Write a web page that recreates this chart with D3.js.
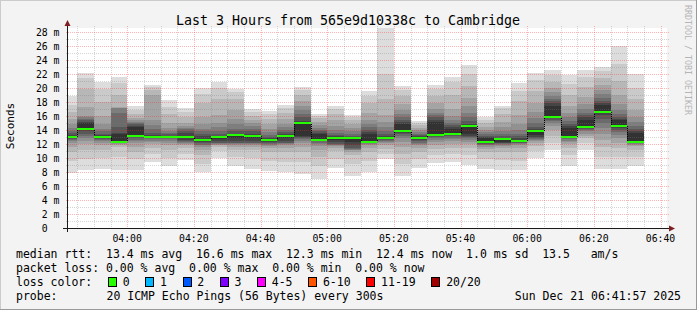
<!DOCTYPE html>
<html>
<head>
<meta charset="utf-8">
<script src="https://cdn.jsdelivr.net/npm/d3@7"></script>
<style>
  html, body { margin: 0; padding: 0; background: #f3f3f3; }
  svg { display: block; }
  text { font-family: "DejaVu Sans Mono", monospace; fill: #000; }
</style>
</head>
<body>
<svg id="chart" width="697" height="310"></svg>
<script>
// ---- data ----
const title = "Last 3 Hours from 565e9d10338c to Cambridge";
const startTime = Date.UTC(2025, 11, 21, 3, 41, 57);
const endTime = Date.UTC(2025, 11, 21, 6, 41, 57);
const firstSlot = Date.UTC(2025, 11, 21, 3, 40, 0);
const stepMs = 300 * 1000;

// median rtt per 5 min step (ms)
const medians = [13.0, 14.1, 13.0, 12.3, 13.1, 13.0, 13.0, 13.0, 12.6, 13.0,
                 13.3, 13.1, 12.6, 13.2, 15.0, 12.6, 12.8, 12.8, 12.3, 12.9,
                 13.8, 12.9, 13.3, 13.5, 14.6, 12.3, 12.7, 12.5, 13.8, 15.9,
                 13.0, 14.4, 16.6, 14.6, 12.3];

// packets lost per step (all 0 of 20)
const lossCounts = [0,0,0,0,0,0,0,0,0,0,0,0,0,0,0,0,0,0,0,0,0,0,0,0,0,0,0,0,0,0,0,0,0,0,0];

// 20 sorted ping times per step (ms)
const pings = [
  [7.9, 9.6, 10.8, 11.6, 12.1, 12.4, 12.6, 12.7, 12.8, 12.9, 13.1, 13.3, 13.6, 13.9, 14.3, 14.9, 15.6, 16.6, 17.6, 18.8],
  [8.3, 9.8, 11.2, 12.0, 12.5, 12.9, 13.2, 13.5, 13.8, 14.1, 15.0, 15.2, 15.4, 15.6, 15.8, 16.0, 17.3, 19.9, 21.4, 22.2],
  [8.5, 10.0, 11.2, 11.8, 12.2, 12.4, 12.6, 12.7, 12.8, 12.9, 13.1, 13.3, 13.5, 13.8, 14.2, 14.8, 16.0, 18.0, 19.8, 20.9],
  [8.3, 10.2, 11.6, 11.9, 12.0, 12.1, 12.2, 12.2, 12.3, 12.3, 13.4, 13.6, 14.5, 16.5, 17.1, 17.2, 17.3, 19.0, 20.7, 21.6],
  [8.3, 9.8, 10.8, 11.6, 12.1, 12.4, 12.6, 12.8, 13.0, 13.1, 14.4, 14.6, 14.8, 15.0, 15.2, 15.4, 15.7, 16.3, 16.9, 17.4],
  [9.5, 10.6, 11.5, 12.0, 12.3, 12.5, 12.7, 12.8, 12.9, 13.0, 13.1, 13.3, 13.6, 14.1, 14.7, 15.4, 19.0, 19.7, 20.1, 20.4],
  [8.8, 10.0, 11.2, 11.8, 12.2, 12.5, 12.7, 12.8, 12.9, 13.0, 13.1, 13.2, 13.4, 13.6, 13.9, 14.3, 15.0, 16.3, 17.3, 18.3],
  [9.7, 10.6, 11.4, 11.8, 12.0, 12.2, 12.3, 12.4, 12.6, 12.9, 13.1, 13.6, 13.9, 14.1, 14.3, 14.6, 15.0, 15.8, 16.6, 17.2],
  [8.0, 9.2, 10.4, 11.2, 11.6, 11.8, 11.9, 12.1, 12.3, 12.5, 12.7, 13.1, 13.5, 13.8, 14.2, 14.8, 15.8, 17.8, 19.2, 20.0],
  [10.0, 11.0, 11.6, 11.8, 11.9, 12.0, 12.1, 12.2, 12.4, 12.7, 13.0, 13.2, 13.5, 13.9, 14.4, 15.0, 16.2, 18.5, 20.0, 20.9],
  [8.8, 10.2, 11.2, 11.6, 11.9, 12.0, 12.1, 12.2, 12.5, 12.9, 13.3, 13.5, 13.8, 14.2, 14.8, 15.6, 16.8, 18.4, 19.4, 19.9],
  [8.5, 10.0, 11.1, 11.6, 11.8, 12.0, 12.1, 12.2, 12.5, 12.8, 13.1, 13.4, 13.8, 14.2, 14.6, 15.0, 15.4, 16.0, 16.6, 17.0],
  [8.2, 9.6, 10.8, 11.4, 11.7, 11.9, 12.0, 12.1, 12.3, 12.5, 12.6, 12.8, 13.0, 13.3, 13.7, 14.2, 14.8, 15.6, 16.3, 16.7],
  [8.0, 9.5, 10.8, 11.4, 11.8, 12.0, 12.1, 12.2, 12.5, 12.9, 13.2, 13.4, 13.7, 14.0, 14.4, 14.9, 15.6, 16.5, 17.2, 17.6],
  [7.7, 9.4, 10.8, 11.6, 12.1, 12.4, 12.7, 12.9, 13.0, 13.1, 15.0, 15.3, 15.8, 16.3, 16.8, 17.4, 18.1, 19.0, 19.7, 20.1],
  [7.0, 8.8, 10.2, 11.2, 11.7, 12.0, 12.2, 12.4, 12.5, 12.6, 13.4, 13.6, 13.8, 14.0, 14.3, 14.7, 15.2, 15.7, 16.0, 16.3],
  [8.6, 9.9, 11.0, 11.5, 11.7, 11.8, 11.9, 12.0, 12.3, 12.6, 12.9, 13.1, 13.3, 13.6, 14.0, 14.6, 15.4, 16.3, 17.0, 17.4],
  [7.5, 9.2, 10.4, 10.9, 11.1, 11.2, 11.3, 11.4, 11.8, 12.3, 12.8, 13.0, 13.2, 13.5, 13.9, 14.3, 14.8, 15.4, 15.8, 16.1],
  [8.0, 9.6, 10.8, 11.4, 11.8, 12.0, 12.1, 12.2, 12.2, 12.3, 13.4, 13.7, 14.0, 14.4, 14.9, 15.5, 16.5, 17.8, 18.8, 19.6],
  [9.8, 10.6, 11.3, 11.8, 12.1, 12.3, 12.5, 12.6, 12.7, 12.8, 13.0, 13.2, 13.5, 13.9, 14.5, 15.2, 16.2, 18.5, 22.0, 28.6],
  [7.5, 9.2, 10.6, 11.6, 12.3, 12.8, 13.1, 13.4, 13.6, 13.8, 14.8, 15.1, 15.4, 15.8, 16.3, 16.9, 17.7, 18.8, 19.7, 20.3],
  [8.6, 9.8, 10.8, 11.4, 11.8, 12.0, 12.2, 12.4, 12.6, 12.8, 12.9, 13.1, 13.3, 13.5, 13.7, 14.0, 14.3, 14.7, 15.0, 15.3],
  [9.3, 10.4, 11.3, 11.9, 12.3, 12.6, 12.8, 13.0, 13.2, 13.3, 15.2, 15.5, 15.8, 16.1, 16.5, 17.0, 17.8, 18.8, 19.8, 20.4],
  [9.5, 10.6, 11.4, 12.0, 12.4, 12.7, 12.9, 13.1, 13.3, 13.5, 14.2, 14.4, 14.7, 15.0, 15.4, 16.0, 17.0, 19.0, 20.8, 21.6],
  [9.0, 10.5, 11.5, 12.0, 12.3, 12.6, 12.8, 13.0, 13.2, 13.5, 14.6, 14.9, 15.3, 15.8, 16.5, 17.4, 18.6, 20.3, 22.0, 23.3],
  [8.5, 9.8, 10.8, 11.3, 11.6, 11.8, 11.9, 12.0, 12.1, 12.3, 12.8, 13.0, 13.2, 13.4, 13.7, 14.0, 14.4, 15.0, 15.5, 15.9],
  [8.3, 9.7, 10.8, 11.4, 11.7, 11.9, 12.0, 12.1, 12.2, 12.3, 12.7, 12.9, 13.2, 13.5, 13.9, 14.4, 15.2, 16.3, 17.1, 17.5],
  [8.3, 9.6, 10.8, 11.4, 11.8, 12.0, 12.1, 12.2, 12.3, 12.4, 12.6, 12.8, 13.1, 13.5, 14.0, 14.8, 16.2, 18.2, 19.6, 20.7],
  [10.0, 11.0, 11.7, 12.1, 12.4, 12.6, 12.7, 12.8, 13.0, 13.3, 13.8, 14.1, 14.5, 15.0, 15.7, 16.6, 17.8, 19.6, 21.2, 22.2],
  [11.1, 12.2, 13.2, 14.0, 14.6, 15.0, 15.3, 15.5, 15.7, 15.9, 17.4, 17.8, 18.1, 18.5, 18.9, 19.4, 20.0, 20.9, 21.9, 22.6],
  [8.9, 10.4, 11.5, 12.0, 12.3, 12.5, 12.7, 12.8, 12.9, 13.0, 14.3, 14.6, 14.9, 15.3, 15.8, 16.5, 17.5, 19.0, 20.6, 21.8],
  [11.1, 12.1, 12.8, 13.2, 13.5, 13.8, 14.0, 14.1, 14.3, 14.4, 15.5, 15.8, 16.1, 16.5, 17.0, 17.7, 18.7, 20.2, 21.6, 22.6],
  [8.4, 10.2, 11.6, 12.6, 13.5, 14.3, 15.0, 15.6, 16.1, 16.6, 17.6, 17.9, 18.2, 18.6, 19.1, 19.7, 20.5, 21.5, 22.4, 23.0],
  [8.5, 10.2, 11.4, 12.2, 12.8, 13.3, 13.7, 14.0, 14.3, 14.6, 15.4, 15.6, 15.9, 16.3, 16.9, 17.7, 19.0, 21.0, 23.5, 26.0],
  [8.8, 10.1, 11.2, 11.7, 11.9, 12.0, 12.1, 12.2, 12.2, 12.3, 13.6, 13.9, 14.2, 14.6, 15.1, 15.8, 16.8, 18.4, 20.0, 22.0]
];

const smokeShades = ["#dddddd", "#cacaca", "#b7b7b7", "#a4a4a4", "#919191",
                     "#7e7e7e", "#6b6b6b", "#585858", "#454545", "#323232"];

const lossLabels = ["0", "1", "2", "3", "4-5", "6-10", "11-19", "20/20"];
const lossColors = ["#26ff00", "#00b8ff", "#0059ff", "#7e00ff", "#ff00ff", "#ff5500", "#ff0000", "#a10000"];

const yMinorTicks = d3.range(1, 29);
const yMajorTicks = d3.range(0, 29, 2);

const legendRows = [
  "median rtt:  13.4 ms avg  16.6 ms max  12.3 ms min  12.4 ms now  1.0 ms sd  13.5   am/s",
  "packet loss: 0.00 % avg  0.00 % max  0.00 % min  0.00 % now"
];
const probeText = "20 ICMP Echo Pings (56 Bytes) every 300s";
const stampText = "Sun Dec 21 06:41:57 2025";

// ---- layout ----
const W = 697, H = 310;
const plot = { left: 67, right: 667, top: 28, bottom: 228 };
const cw = 6.96; // legend char advance

const svg = d3.select("#chart");

const x = d3.scaleUtc()
    .domain([new Date(startTime), new Date(endTime)])
    .range([plot.left, plot.right]);

const y = d3.scaleLinear()
    .domain([0, 200 / 7])
    .range([plot.bottom, plot.top]);

const defs = svg.append("defs");

// dotted patterns: one lit pixel every two
const dotPattern = (id, w, h, col) => {
    const p = defs.append("pattern").attr("id", id)
        .attr("patternUnits", "userSpaceOnUse")
        .attr("x", 0).attr("y", 0)
        .attr("width", w).attr("height", h);
    p.append("rect").attr("x", 0).attr("y", 0).attr("width", 1).attr("height", 1)
        .attr("fill", col).attr("shape-rendering", "crispEdges");
};
dotPattern("vMinor", 1, 2, "rgba(120,120,120,0.32)");
dotPattern("hMinor", 2, 1, "rgba(120,120,120,0.32)");
dotPattern("vMajor", 1, 2, "rgba(255,30,30,0.33)");
dotPattern("hMajor", 2, 1, "rgba(255,30,30,0.33)");
dotPattern("vDark", 1, 2, "#000000");

// background + frame
svg.append("rect").attr("width", W).attr("height", H).attr("fill", "#f3f3f3");
svg.append("path").attr("d", `M0,${H} V0 H${W}`).attr("fill", "none")
    .attr("stroke", "#cbcbcb").attr("stroke-width", 2);
svg.append("path").attr("d", `M0,${H} H${W} V0`).attr("fill", "none")
    .attr("stroke", "#999999").attr("stroke-width", 2);

// canvas
svg.append("rect")
    .attr("x", plot.left).attr("y", plot.top)
    .attr("width", plot.right - plot.left).attr("height", plot.bottom - plot.top)
    .attr("fill", "#ffffff");

defs.append("clipPath").attr("id", "clip")
    .append("rect")
    .attr("x", plot.left).attr("y", plot.top)
    .attr("width", plot.right - plot.left).attr("height", plot.bottom - plot.top);

// smoke
const steps = pings.map((p, i) => {
    const t0 = new Date(firstSlot + i * stepMs);
    const t1 = new Date(firstSlot + (i + 1) * stepMs);
    return {
        p,
        med: medians[i],
        loss: lossCounts[i],
        x0: Math.max(plot.left, Math.round(x(t0))),
        x1: Math.round(x(t1))
    };
});

const smoke = svg.append("g").attr("clip-path", "url(#clip)").attr("shape-rendering", "crispEdges");
steps.forEach((s) => {
    smokeShades.forEach((col, b) => {
        const lo = s.p[b], hi = s.p[19 - b];
        const yt = Math.round(y(hi)), yb = Math.round(y(lo));
        smoke.append("rect")
            .attr("x", s.x0).attr("y", yt)
            .attr("width", s.x1 - s.x0).attr("height", Math.max(1, yb - yt))
            .attr("fill", col);
    });
});

// grid (dotted, drawn over the smoke)
const grid = svg.append("g").attr("shape-rendering", "crispEdges");
const minorT = d3.utcMinute.every(5).range(new Date(startTime), new Date(endTime));
const majorT = d3.utcMinute.every(20).range(new Date(startTime), new Date(endTime));
const isMajor = (t) => t.getUTCMinutes() % 20 === 0;

const vLine = (t, pat) => {
    grid.append("rect")
        .attr("x", Math.round(x(t))).attr("y", plot.top - 2)
        .attr("width", 1).attr("height", plot.bottom - plot.top + 4)
        .attr("fill", `url(#${pat})`);
};
const hLine = (v, pat) => {
    grid.append("rect")
        .attr("x", plot.left - 2).attr("y", Math.round(y(v)))
        .attr("width", plot.right - plot.left + 4).attr("height", 1)
        .attr("fill", `url(#${pat})`);
};
minorT.filter((t) => !isMajor(t)).forEach((t) => vLine(t, "vMinor"));
yMinorTicks.filter((v) => v % 2 !== 0).forEach((v) => hLine(v, "hMinor"));
majorT.forEach((t) => vLine(t, "vMajor"));
yMajorTicks.filter((v) => v > 0).forEach((v) => hLine(v, "hMajor"));

// median line: dotted risers between steps, loss-coloured treads
const med = svg.append("g").attr("clip-path", "url(#clip)").attr("shape-rendering", "crispEdges");
steps.forEach((s, i) => {
    if (i < steps.length - 1) {
        const n = steps[i + 1];
        const ya = Math.round(y(s.med)), yb = Math.round(y(n.med));
        if (ya !== yb) {
            med.append("rect")
                .attr("x", s.x1).attr("y", Math.min(ya, yb))
                .attr("width", 1).attr("height", Math.abs(ya - yb))
                .attr("fill", "url(#vDark)");
        }
    }
});
steps.forEach((s) => {
    const yy = Math.round(y(s.med));
    med.append("rect")
        .attr("x", s.x0).attr("y", yy - 1)
        .attr("width", s.x1 - s.x0).attr("height", 2)
        .attr("fill", lossColors[s.loss]);
});

// axes
const axis = svg.append("g").attr("shape-rendering", "crispEdges");
axis.append("line")
    .attr("x1", plot.left - 4).attr("x2", plot.right + 4)
    .attr("y1", plot.bottom + 0.5).attr("y2", plot.bottom + 0.5)
    .attr("stroke", "#1a1a1a");
axis.append("line")
    .attr("x1", plot.left + 0.5).attr("x2", plot.left + 0.5)
    .attr("y1", plot.bottom + 4).attr("y2", plot.top - 4)
    .attr("stroke", "#1a1a1a");
svg.append("path")
    .attr("d", `M${plot.right + 2},${plot.bottom - 2.5} L${plot.right + 8},${plot.bottom + 0.5} L${plot.right + 2},${plot.bottom + 3.5} Z`)
    .attr("fill", "#7f1f1f");
svg.append("path")
    .attr("d", `M${plot.left - 2.5},${plot.top - 2} L${plot.left + 0.5},${plot.top - 8} L${plot.left + 3.5},${plot.top - 2} Z`)
    .attr("fill", "#7f1f1f");

// tick labels
svg.append("g").selectAll("text")
    .data(yMajorTicks)
    .join("text")
    .attr("x", 59.5)
    .attr("y", (d) => y(d))
    .attr("dy", "0.36em")
    .attr("text-anchor", "end")
    .attr("font-size", "9.8px")
    .attr("xml:space", "preserve")
    .style("white-space", "pre")
    .text((d) => (d === 0 ? "0  " : `${d} m`));

const fmt = d3.utcFormat("%H:%M");
svg.append("g").selectAll("text")
    .data(majorT)
    .join("text")
    .attr("x", (d) => x(d))
    .attr("y", 238)
    .attr("dy", "0.36em")
    .attr("text-anchor", "middle")
    .attr("font-size", "9.8px")
    .text((d) => fmt(d));

// title + y label + watermark
svg.append("text")
    .attr("x", 348).attr("y", 20).attr("dy", "0.36em")
    .attr("text-anchor", "middle").attr("font-size", "13.3px")
    .text(title);

svg.append("text")
    .attr("transform", "translate(10,126) rotate(-90)")
    .attr("dy", "0.36em")
    .attr("text-anchor", "middle").attr("font-size", "11px")
    .text("Seconds");

svg.append("text")
    .attr("transform", "translate(687.5,5) rotate(90)")
    .attr("dy", "0.36em")
    .attr("font-size", "8.3px")
    .style("fill", "#b5b5b5")
    .text("RRDTOOL / TOBI OETIKER");

// legend
const legend = svg.append("g").attr("font-size", "11.5px");
const rowY = [254, 268, 282, 296];
legendRows.forEach((s, i) => {
    legend.append("text")
        .attr("x", 16).attr("y", rowY[i]).attr("dy", "0.36em")
        .attr("xml:space", "preserve").style("white-space", "pre")
        .text(s);
});

legend.append("text")
    .attr("x", 16).attr("y", rowY[2]).attr("dy", "0.36em")
    .text("loss color:");
let bx = 16 + 13 * cw + 1.5;
lossLabels.forEach((lab, i) => {
    legend.append("rect")
        .attr("x", bx + 0.5).attr("y", rowY[2] - 4.5)
        .attr("width", 8).attr("height", 9)
        .attr("fill", lossColors[i]).attr("stroke", "#000")
        .attr("shape-rendering", "crispEdges");
    const lx = bx + 14.7;
    legend.append("text")
        .attr("x", lx).attr("y", rowY[2]).attr("dy", "0.36em")
        .text(lab);
    bx = lx + lab.length * cw + 15.6;
});

legend.append("text")
    .attr("x", 16).attr("y", rowY[3]).attr("dy", "0.36em")
    .text("probe:");
legend.append("text")
    .attr("x", 16 + 13 * cw).attr("y", rowY[3]).attr("dy", "0.36em")
    .text(probeText);
legend.append("text")
    .attr("x", 681).attr("y", rowY[3]).attr("dy", "0.36em")
    .attr("text-anchor", "end")
    .text(stampText);
</script>
</body>
</html>
